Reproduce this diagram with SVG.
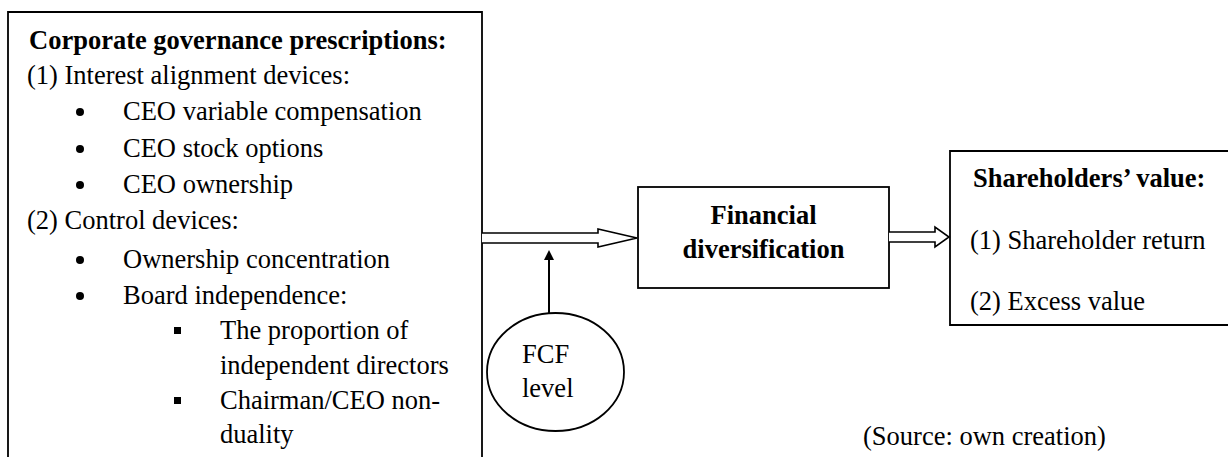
<svg xmlns="http://www.w3.org/2000/svg" width="1228" height="457" viewBox="0 0 1228 457">
<style>
text{font-family:"Liberation Serif","Times New Roman",serif;font-size:26.5px;fill:#000}
.b{font-weight:bold}
.box{fill:#fff;stroke:#000;stroke-width:1.8}
.ln{fill:none;stroke:#000;stroke-width:1.8}
.ha{fill:#fff;stroke:#000;stroke-width:1.6;stroke-linejoin:miter}
</style>
<defs>
<marker id="tri" markerWidth="10" markerHeight="10" refX="8" refY="5" orient="auto" markerUnits="userSpaceOnUse" viewBox="0 0 10 10">
<path d="M0,0 L10,5 L0,10 Z" fill="#000"/>
</marker>
</defs>
<g id="node-governance">
<path class="ln" d="M8,470 V12 H482 V470"/>
<text class="b" x="29" y="49">Corporate governance prescriptions:</text>
<text x="27" y="84">(1) Interest alignment devices:</text>
<circle cx="80" cy="112" r="4"/>
<text x="123" y="120">CEO variable compensation</text>
<circle cx="80" cy="149" r="4"/>
<text x="123" y="157">CEO stock options</text>
<circle cx="80" cy="185" r="4"/>
<text x="123" y="193">CEO ownership</text>
<text x="27" y="229">(2) Control devices:</text>
<circle cx="80" cy="260" r="4"/>
<text x="123" y="268">Ownership concentration</text>
<circle cx="80" cy="296" r="4"/>
<text x="123" y="304">Board independence:</text>
<rect x="174" y="327" width="7" height="7"/>
<text x="220" y="339">The proportion of</text>
<text x="220" y="374">independent directors</text>
<rect x="174" y="397" width="7" height="7"/>
<text x="220" y="409">Chairman/CEO non-</text>
<text x="220" y="443">duality</text>
</g>
<g id="node-financial">
<rect class="box" x="638" y="187" width="251" height="101"/>
<text class="b" x="763.5" y="224" text-anchor="middle">Financial</text>
<text class="b" x="763.5" y="258" text-anchor="middle">diversification</text>
</g>
<g id="node-value">
<path class="box" d="M1232,151 H950 V325 H1232"/>
<text class="b" x="973" y="187">Shareholders’ value:</text>
<text x="970" y="249">(1) Shareholder return</text>
<text x="970" y="310">(2) Excess value</text>
</g>
<g id="node-fcf">
<ellipse class="box" cx="555.5" cy="372" rx="68.5" ry="59"/>
<text x="522" y="363">FCF</text>
<text x="522" y="397">level</text>
</g>
<g id="connectors">
<path class="ha" d="M482,233 H598 V229 L637,238 L598,247 V243 H482"/>
<path class="ha" d="M889,232 H935 V227 L949,237 L935,247 V242 H889"/>
<line x1="549" y1="313" x2="549" y2="252" stroke="#000" stroke-width="2" marker-end="url(#tri)"/>
</g>
<text x="863" y="445">(Source: own creation)</text>
</svg>
